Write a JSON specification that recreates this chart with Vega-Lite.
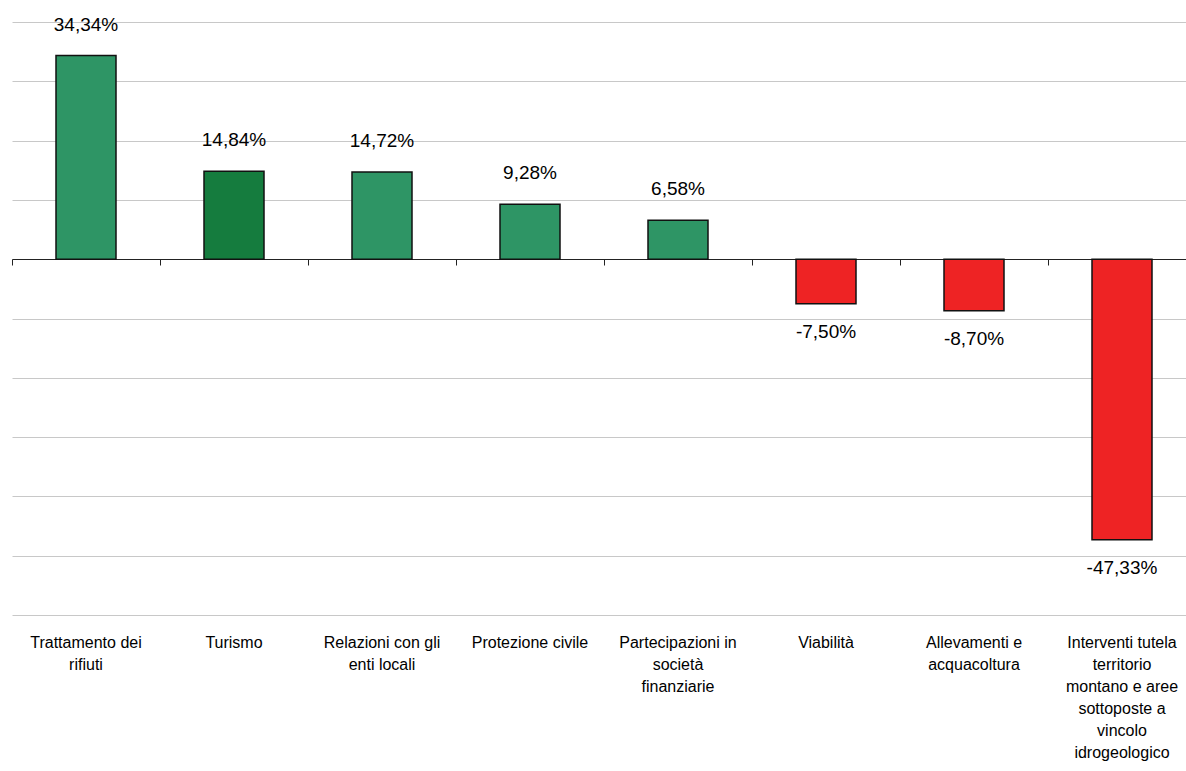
{
  "$schema": "https://vega.github.io/schema/vega-lite/v6.json",
  "width": 1184,
  "height": 593,
  "autosize": "none",
  "padding": {"left": 12, "top": 22, "right": 0, "bottom": 156},
  "background": "white",
  "config": {
    "view": {"stroke": null},
    "locale": {"number": {"decimal": ",", "thousands": ".", "grouping": [3], "currency": ["€", ""], "minus": "-"}}
  },
  "data": {
    "values": [
      {"categoria": "Trattamento dei|rifiuti", "v": 0.3434},
      {"categoria": "Turismo", "v": 0.1484},
      {"categoria": "Relazioni con gli|enti locali", "v": 0.1472},
      {"categoria": "Protezione civile", "v": 0.0928},
      {"categoria": "Partecipazioni in|società|finanziarie", "v": 0.0658},
      {"categoria": "Viabilità", "v": -0.075},
      {"categoria": "Allevamenti e|acquacoltura", "v": -0.087},
      {"categoria": "Interventi tutela|territorio|montano e aree|sottoposte a|vincolo|idrogeologico", "v": -0.4733}
    ]
  },
  "resolve": {"axis": {"x": "independent"}},
  "layer": [
    {
      "mark": {"type": "bar", "size": 60, "stroke": "#111111", "strokeWidth": 1.5},
      "encoding": {
        "x": {
          "field": "categoria", "type": "nominal", "sort": null,
          "scale": {"paddingInner": 0, "paddingOuter": 0},
          "axis": {
            "orient": "bottom", "title": null, "domain": false, "ticks": false, "tickSize": 0,
            "labelAngle": 0, "labelPadding": 19, "labelFont": "Liberation Sans", "labelFontSize": 16,
            "labelColor": "#000000", "labelLineHeight": 22, "labelLimit": 0,
            "labelExpr": "split(datum.label, '|')"
          }
        },
        "y": {
          "field": "v", "type": "quantitative",
          "scale": {"domain": [-0.6, 0.4], "nice": false, "zero": false},
          "axis": {
            "title": null, "domain": false, "ticks": false, "labels": false,
            "grid": true, "gridColor": "#c8c8c8", "gridWidth": 1,
            "values": [-0.6, -0.5, -0.4, -0.3, -0.2, -0.1, 0, 0.1, 0.2, 0.3, 0.4]
          }
        },
        "color": {
          "field": "categoria", "type": "nominal", "legend": null,
          "scale": {
            "domain": ["Trattamento dei|rifiuti", "Turismo", "Relazioni con gli|enti locali", "Protezione civile", "Partecipazioni in|società|finanziarie", "Viabilità", "Allevamenti e|acquacoltura", "Interventi tutela|territorio|montano e aree|sottoposte a|vincolo|idrogeologico"],
            "range": ["#2e9565", "#157c3e", "#2e9565", "#2e9565", "#2e9565", "#ee2324", "#ee2324", "#ee2324"]
          }
        }
      }
    },
    {
      "transform": [{"filter": "datum.v >= 0"}],
      "mark": {"type": "text", "baseline": "alphabetic", "align": "center", "dy": -25, "font": "Liberation Sans", "fontSize": 19, "color": "#000000"},
      "encoding": {
        "x": {
          "field": "categoria", "type": "nominal", "sort": null,
          "axis": {
            "orient": "top", "offset": -237, "title": null, "labels": false, "grid": false,
            "ticks": true, "tickSize": -6, "tickColor": "#222222", "tickWidth": 1, "bandPosition": 0,
            "domain": true, "domainColor": "#222222", "domainWidth": 1
          }
        },
        "y": {"field": "v", "type": "quantitative"},
        "text": {"field": "v", "type": "quantitative", "format": ".2%"}
      }
    },
    {
      "transform": [{"filter": "datum.v < 0"}],
      "mark": {"type": "text", "baseline": "alphabetic", "align": "center", "dy": 34, "font": "Liberation Sans", "fontSize": 19, "color": "#000000"},
      "encoding": {
        "x": {"field": "categoria", "type": "nominal", "sort": null, "axis": null},
        "y": {"field": "v", "type": "quantitative"},
        "text": {"field": "v", "type": "quantitative", "format": ".2%"}
      }
    }
  ]
}
